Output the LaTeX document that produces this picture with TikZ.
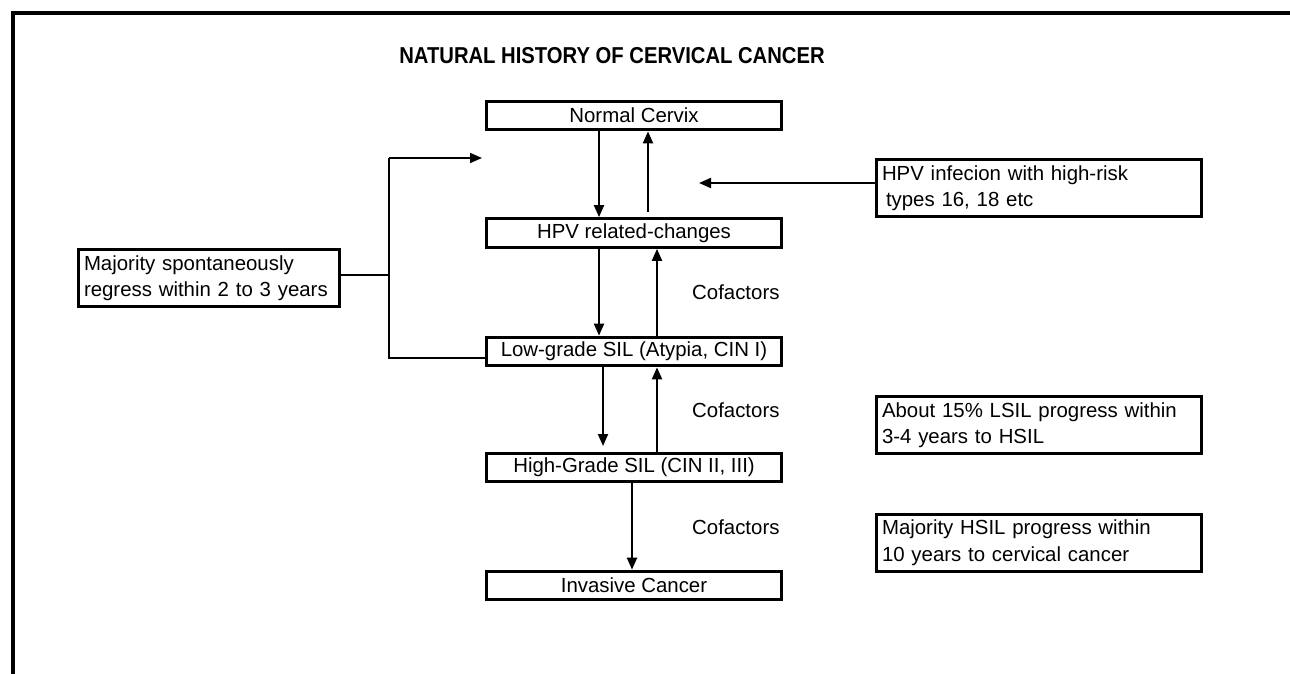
\documentclass[tikz,border=0pt]{standalone}
\usepackage{fontspec}
\setmainfont{Liberation Sans}
\usetikzlibrary{arrows.meta,calc}
\begin{document}
\begin{tikzpicture}[x=1pt,y=-1pt,
  every node/.style={font=\fontsize{20.4}{26.5}\selectfont},
  stage/.style={draw,line width=3.2pt,minimum width=295pt,minimum height=28.5pt,inner sep=0pt},
  note/.style={draw,line width=3pt,text width=313pt,inner xsep=6pt,minimum height=57pt,align=left},
  flow/.style={line width=2pt,-{Triangle[length=12pt,width=10pt]}},
  thin/.style={line width=1.6pt},
  frame/.style={line width=4pt}]
\useasboundingbox (0,0) rectangle (1290,674);
% frame (top and left edges)
\coordinate (f0) at (13,13);
\coordinate (f1) at (1290,13);
\coordinate (f2) at (13,674);
\draw[frame] (f1) -- (f0) -- (f2);
% title
\node (title) at (612,56) {\scalebox{0.88}[1]{\fontsize{23}{27}\bfseries NATURAL HISTORY OF CERVICAL CANCER}};
% main stages
\node[stage] (normal) at (634,115.5) {Normal Cervix};
\node[stage] (hpv) at (634,233) {HPV related-changes};
\node[stage] (low) at (634,351.5) {Low-grade SIL (Atypia, CIN I)};
\node[stage] (high) at (634,467.5) {High-Grade SIL (CIN II, III)};
\node[stage] (inv) at (634,585.5) {Invasive Cancer};
% cofactors
\node[anchor=west,inner sep=0pt] (cof1) at (692,292) {Cofactors};
\node[anchor=west,inner sep=0pt] (cof2) at (692,410) {Cofactors};
\node[anchor=west,inner sep=0pt] (cof3) at (692,527) {Cofactors};
% notes
\node[note] (infect) at (1038.5,188) {HPV infecion with high-risk\\\hspace*{4pt}types 16, 18 etc};
\node[note] (lsil) at (1038.5,425) {About 15\% LSIL progress within\\3-4 years to HSIL};
\node[note] (hsil) at (1038.5,542.5) {Majority HSIL progress within\\10 years to cervical cancer};
\node[note,text width=249pt] (regress) at (208.5,278) {Majority spontaneously\\regress within 2 to 3 years};
% vertical flow arrows
\draw[flow] (normal.south -| 599,0) -- (hpv.north -| 599,0);
\draw[flow] (648,212) -- (normal.south -| 648,0);
\draw[flow] (hpv.south -| 599,0) -- (low.north -| 599,0);
\draw[flow] (low.north -| 657,0) -- (hpv.south -| 657,0);
\coordinate (d5) at (603,446);
\draw[flow] (low.south -| 603,0) -- (d5);
\draw[flow] (high.north -| 657,0) -- (low.south -| 657,0);
\draw[flow] (high.south -| 632,0) -- (inv.north -| 632,0);
% infection arrow
\coordinate (itip) at (699,183);
\draw[flow] (infect.west |- itip) -- (itip);
% regression feedback
\coordinate (fbtop) at (389,158);
\coordinate (fbbot) at (389,358);
\coordinate (fbmid) at (389,275);
\coordinate (fbtip) at (482,158);
\draw[thin] (low.west |- fbbot) -- (fbbot) -- (fbtop);
\draw[flow,line width=1.6pt] (fbtop) -- (fbtip);
\draw[thin] (regress.east |- fbmid) -- (fbmid);
\end{tikzpicture}
\end{document}
